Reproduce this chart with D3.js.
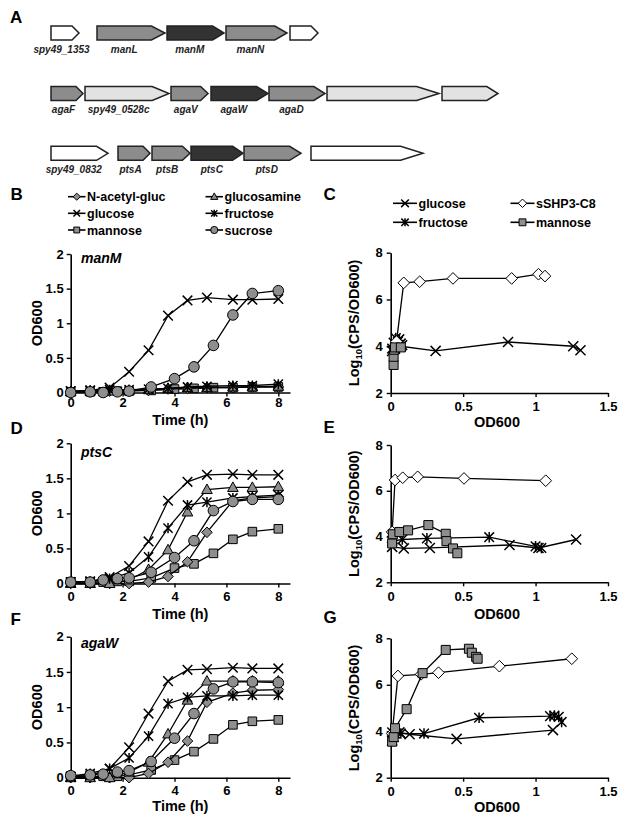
<!DOCTYPE html>
<html><head><meta charset="utf-8">
<script src="https://cdn.jsdelivr.net/npm/d3@7"></script>
<style>body{margin:0;background:#fff}svg{display:block;font-family:Arial,"Liberation Sans",sans-serif}</style>
</head><body><svg id="fig" width="629" height="826"></svg>
<script>
// ---------------- DATA ----------------
// Panel A gene maps: [name, start, end, class]
const geneRow1 = [["spy49_1353",0,28,"none"],["manL",46,114,"pts"],["manM",116,173,"target"],["manN",175,236,"pts"],["",239,267,"none"]];
const geneRow2 = [["agaF",0,32,"pts"],["spy49_0528c",34,118,"other"],["agaV",120,157,"pts"],["agaW",160,217,"target"],["agaD",218,274,"pts"],["",276,388,"other"],["",391,447,"other"]];
const geneRow3 = [["spy49_0832",0,57,"none"],["ptsA",67,99,"pts"],["ptsB",101,139,"pts"],["ptsC",140,192,"target"],["ptsD",193,250,"pts"],["",260,372,"none"]];

// Growth curves (time in h, OD600)
const timesA = [0,0.75,1.5,2.25,3,3.75,4.5,5.25,6.25,7,8];
const timesB = [0,0.75,1.25,1.8,2.25,3.1,4,4.75,5.5,6.25,7,8];
const growthSeries = ["N-acetyl-gluc","glucosamine","glucose","fructose","mannose","sucrose"];

const B_nag        = [0.01,0.01,0.02,0.03,0.03,0.05,0.06,0.07,0.07,0.08,0.08];
const B_glucosamine= [0.01,0.02,0.02,0.03,0.04,0.06,0.07,0.07,0.08,0.08,0.09];
const B_glucose    = [0.02,0.03,0.07,0.30,0.61,1.11,1.33,1.37,1.34,1.34,1.35];
const B_fructose   = [0.02,0.03,0.04,0.04,0.05,0.06,0.08,0.09,0.10,0.10,0.12];
const B_mannose    = [0.01,0.01,0.01,0.02,0.02,0.03,0.05,0.06,0.07,0.07,0.08,0.08];
const B_sucrose    = [0.00,0.01,0.00,0.01,0.02,0.08,0.20,0.37,0.68,1.12,1.43,1.47];

const D_nag        = [0.00,0.00,0.00,0.00,0.02,0.10,0.31,0.73,1.18,1.22,1.24];
const D_glucosamine= [0.00,0.00,0.00,0.05,0.20,0.48,1.02,1.34,1.37,1.37,1.38];
const D_glucose    = [0.02,0.03,0.09,0.25,0.60,1.18,1.45,1.55,1.56,1.55,1.55];
const D_fructose   = [0.02,0.03,0.07,0.15,0.38,0.79,1.12,1.16,1.22,1.24,1.26];
const D_mannose    = [0.02,0.02,0.02,0.03,0.03,0.08,0.22,0.28,0.43,0.63,0.74,0.78];
const D_sucrose    = [0.02,0.02,0.05,0.07,0.08,0.16,0.37,0.61,1.04,1.17,1.20,1.20];

const F_nag        = [0.00,0.00,0.00,0.00,0.06,0.22,0.52,1.07,1.20,1.24,1.25];
const F_glucosamine= [0.00,0.00,0.00,0.08,0.22,0.62,1.10,1.37,1.37,1.37,1.37];
const F_glucose    = [0.01,0.03,0.13,0.43,0.91,1.37,1.53,1.54,1.56,1.55,1.55];
const F_fructose   = [0.02,0.06,0.13,0.28,0.59,1.05,1.14,1.16,1.16,1.17,1.17];
const F_mannose    = [0.02,0.02,0.02,0.02,0.04,0.11,0.25,0.37,0.55,0.75,0.80,0.82];
const F_sucrose    = [0.03,0.04,0.05,0.08,0.10,0.23,0.56,0.91,1.26,1.36,1.36,1.35];

// Reporter panels: [OD600, log10(CPS/OD600)]
const reporterSeries = ["glucose","sSHP3-C8","fructose","mannose"];
const C_glucose  = [[0.01,3.8],[0.03,3.9],[0.07,4.0],[0.31,3.8],[0.81,4.18],[1.26,4.0],[1.31,3.83]];
const C_fructose = [[0.01,3.9],[0.02,4.15],[0.035,4.35],[0.05,4.2],[0.06,4.3],[0.07,4.12],[0.08,4.05]];
const C_shp      = [[0.04,4.2],[0.09,6.71],[0.2,6.76],[0.43,6.9],[0.835,6.9],[1.02,7.08],[1.065,7.0]];
const C_mannose  = [[0.02,3.2],[0.02,3.55],[0.025,3.85],[0.03,3.95],[0.07,3.95]];

const E_glucose  = [[0.01,3.55],[0.09,3.48],[0.27,3.5],[0.82,3.63],[1.02,3.5],[1.28,3.87]];
const E_fructose = [[0.01,3.8],[0.08,3.87],[0.25,3.92],[0.68,3.97],[1.0,3.57],[1.04,3.5]];
const E_shp      = [[0.01,4.2],[0.03,6.47],[0.083,6.57],[0.186,6.61],[0.506,6.54],[1.07,6.44]];
const E_mannose  = [[0.01,3.7],[0.015,4.1],[0.06,4.2],[0.12,4.27],[0.26,4.5],[0.38,4.12],[0.385,3.8],[0.43,3.48],[0.46,3.27]];

const G_glucose  = [[0.01,3.6],[0.02,3.75],[0.06,3.95],[0.13,3.87],[0.455,3.67],[1.12,4.05]];
const G_fructose = [[0.01,3.95],[0.03,3.9],[0.07,3.9],[0.23,3.9],[0.61,4.58],[1.1,4.65],[1.13,4.67],[1.16,4.62],[1.18,4.4]];
const G_shp      = [[0.01,3.9],[0.05,6.38],[0.21,6.45],[0.33,6.52],[0.75,6.8],[1.25,7.12]];
const G_mannose  = [[0.01,3.55],[0.02,3.75],[0.03,4.13],[0.11,4.95],[0.22,6.5],[0.38,7.5],[0.54,7.55],[0.56,7.38],[0.59,7.2],[0.6,7.12]];

// Axis ticks
const timeTicks = [0,2,4,6,8];
const timeAxisMax = 8.45;
const odTicks = [0,0.5,1,1.5,2];
const odXTicks = [0,0.5,1,1.5];
const logTicks = [2,4,6,8];

// ---------------- STYLE ----------------
const svg = d3.select("#fig");
const GRAY = "#8e8e8e";
const TICKFS = 13;
const geneFill = {none:"#ffffff", pts:"#8c8c8c", target:"#333333", other:"#e2e2e2"};
const markerStyle = {
  "N-acetyl-gluc":{shape:"diamond", fill:GRAY},
  "glucosamine":{shape:"triangle", fill:GRAY},
  "glucose":{shape:"cross", fill:"none"},
  "fructose":{shape:"star", fill:"none"},
  "mannose":{shape:"square", fill:GRAY},
  "sucrose":{shape:"circle", fill:GRAY},
  "sSHP3-C8":{shape:"diamond", fill:"#ffffff"}
};
function markerPath(shape, s){
  switch(shape){
    case "diamond": return `M0,${-s}L${s},0L0,${s}L${-s},0Z`;
    case "triangle": return `M0,${-s*1.05}L${s},${s*0.75}L${-s},${s*0.75}Z`;
    case "square": return `M${-s},${-s}H${s}V${s}H${-s}Z`;
    case "circle": return `M${s},0A${s},${s} 0 1,1 ${-s},0A${s},${s} 0 1,1 ${s},0Z`;
    case "cross": return `M${-s},${-s}L${s},${s}M${-s},${s}L${s},${-s}`;
    case "star": return `M${-s},${-s}L${s},${s}M${-s},${s}L${s},${-s}M0,${-s*1.1}V${s*1.1}`;
  }
}
const markerSize = {diamond:5.3, triangle:5.3, square:4.3, circle:5.3, cross:4.8, star:4.6};
function drawMarker(sel, name, s){
  const st = markerStyle[name];
  const size = s * markerSize[st.shape];
  const line = st.shape==="cross"||st.shape==="star";
  sel.append("path").attr("d", markerPath(st.shape, size))
    .attr("fill", st.fill).attr("stroke","#000")
    .attr("stroke-width", line?1.5:1);
}
function styleAxis(g, fs){
  g.select(".domain").attr("stroke","#000").attr("stroke-width",1.6);
  g.selectAll(".tick line").attr("stroke","#000").attr("stroke-width",1.4);
  g.selectAll(".tick text").attr("fill","#000").attr("font-size",fs)
    .attr("font-weight","bold").attr("font-family",'Arial,"Liberation Sans",sans-serif');
}
function letter(t,x,y){
  svg.append("text").attr("x",x).attr("y",y).text(t)
    .attr("font-size",17).attr("font-weight","bold");
}

// ---------------- PANEL A ----------------
letter("A",10,23);
const geneX = d3.scaleLinear().domain([0,450]).range([51,501]);
const rowY = [33, 93.5, 153.3];
[geneRow1, geneRow2, geneRow3].forEach((row,i)=>{
  const cy = rowY[i], h = 7;
  const g = svg.append("g");
  row.forEach(([name,s,e,cls])=>{
    const x0 = geneX(s), x1 = geneX(e);
    const head = Math.max(7, 0.2*(x1-x0));
    g.append("path")
      .attr("d",`M${x0},${cy-h}L${x1-head},${cy-h}L${x1},${cy}L${x1-head},${cy+h}L${x0},${cy+h}Z`)
      .attr("fill",geneFill[cls]).attr("stroke","#222").attr("stroke-width",1.5)
      .attr("stroke-linejoin","miter");
    if(name){
      g.append("text").attr("x",(x0+x1-head)/2).attr("y",cy+19.5)
        .attr("text-anchor","middle").attr("font-size",10).attr("font-style","italic")
        .attr("font-weight","bold").attr("fill","#222").text(name);
    }
  });
});

// ---------------- LEGENDS ----------------
function legend(items, x0s, ys, lineLen, ms){
  items.forEach((name,i)=>{
    const col = i%2, row = Math.floor(i/2);
    const x = x0s[col], y = ys[row];
    const g = svg.append("g");
    g.append("line").attr("x1",x).attr("x2",x+lineLen).attr("y1",y).attr("y2",y)
      .attr("stroke","#000").attr("stroke-width",1.6);
    const m = g.append("g").attr("transform",`translate(${x+lineLen/2},${y})`);
    drawMarker(m, name, ms);
    g.append("text").attr("x",x+lineLen+1.5).attr("y",y).attr("dy","0.36em")
      .attr("font-size",12.5).attr("font-weight","bold").text(name);
  });
}
legend(growthSeries, [68,205.5], [196.7,213.3,230], 17.5, 0.68);
legend(reporterSeries, [393,510.5], [203.3,222.3], 24, 0.8);

// ---------------- GROWTH PANELS ----------------
const growthPanels = [
  {letter:"B", ly:200, top:254, bottom:392.5, gene:"manM", gy:263, pad:1, title:425,
   data:{"N-acetyl-gluc":B_nag,"glucosamine":B_glucosamine,"glucose":B_glucose,"fructose":B_fructose,"mannose":B_mannose,"sucrose":B_sucrose}},
  {letter:"D", ly:434, top:443.3, bottom:583.5, gene:"ptsC", gy:456.5, pad:4.5, title:618.5,
   data:{"N-acetyl-gluc":D_nag,"glucosamine":D_glucosamine,"glucose":D_glucose,"fructose":D_fructose,"mannose":D_mannose,"sucrose":D_sucrose}},
  {letter:"F", ly:625, top:636.7, bottom:777.7, gene:"agaW", gy:648, pad:4.5, title:811,
   data:{"N-acetyl-gluc":F_nag,"glucosamine":F_glucosamine,"glucose":F_glucose,"fructose":F_fructose,"mannose":F_mannose,"sucrose":F_sucrose}}
];
const drawOrder = ["mannose","N-acetyl-gluc","glucosamine","fructose","glucose","sucrose"];
growthPanels.forEach(p=>{
  letter(p.letter, 10.5, p.ly);
  const x = d3.scaleLinear().domain([0,timeAxisMax]).range([70.7,290]);
  const y = d3.scaleLinear().domain([0,2]).range([p.bottom,p.top]);
  const g = svg.append("g");
  const ya = g.append("g").attr("transform",`translate(${x(0)},0)`)
    .call(d3.axisLeft(y).tickValues(odTicks).tickSize(4).tickSizeOuter(0).tickPadding(3).tickFormat(d3.format("")));
  styleAxis(ya, TICKFS);
  const xa = g.append("g").attr("transform",`translate(0,${y(0)})`)
    .call(d3.axisBottom(x).tickValues(timeTicks).tickSize(4).tickSizeOuter(0).tickPadding(p.pad).tickFormat(d3.format("")));
  styleAxis(xa, TICKFS);
  g.append("text").attr("x",(70.7+290)/2).attr("y",p.title).attr("text-anchor","middle")
    .attr("font-size",14.5).attr("font-weight","bold").text("Time (h)");
  g.append("text").attr("transform",`translate(41.5,${(p.top+p.bottom)/2}) rotate(-90)`)
    .attr("text-anchor","middle").attr("font-size",14.5).attr("font-weight","bold").text("OD600");
  g.append("text").attr("x",81).attr("y",p.gy).attr("font-size",14).attr("font-style","italic")
    .attr("font-weight","bold").text(p.gene);
  drawOrder.forEach(name=>{
    const vals = p.data[name];
    const ts = vals.length===timesA.length ? timesA : timesB;
    const pts = vals.map((v,i)=>[ts[i],v]);
    g.append("path").attr("d", d3.line().x(d=>x(d[0])).y(d=>y(d[1]))(pts))
      .attr("fill","none").attr("stroke","#000").attr("stroke-width",1.3);
    pts.forEach(d=>{
      const m = g.append("g").attr("transform",`translate(${x(d[0])},${y(d[1])})`);
      drawMarker(m, name, 1);
    });
  });
});

// ---------------- REPORTER PANELS ----------------
const reporterPanels = [
  {letter:"C", ly:200, top:252.7, bottom:393, pad:4.5, title:427,
   data:{"glucose":C_glucose,"fructose":C_fructose,"sSHP3-C8":C_shp,"mannose":C_mannose}},
  {letter:"E", ly:433, top:445, bottom:582.3, pad:5, title:619,
   data:{"glucose":E_glucose,"fructose":E_fructose,"sSHP3-C8":E_shp,"mannose":E_mannose}},
  {letter:"G", ly:623, top:638.3, bottom:777.7, pad:5, title:812,
   data:{"glucose":G_glucose,"fructose":G_fructose,"sSHP3-C8":G_shp,"mannose":G_mannose}}
];
const rOrder = ["glucose","fructose","sSHP3-C8","mannose"];
reporterPanels.forEach(p=>{
  letter(p.letter, 323.5, p.ly);
  const x = d3.scaleLinear().domain([0,1.5]).range([390.7,608]);
  const y = d3.scaleLinear().domain([2,8]).range([p.bottom,p.top]);
  const g = svg.append("g");
  const ya = g.append("g").attr("transform",`translate(${x(0)},0)`)
    .call(d3.axisLeft(y).tickValues(logTicks).tickSize(4).tickSizeOuter(0).tickPadding(4).tickFormat(d3.format("")));
  styleAxis(ya, TICKFS);
  const xa = g.append("g").attr("transform",`translate(0,${y(2)})`)
    .call(d3.axisBottom(x).tickValues(odXTicks).tickSize(4).tickSizeOuter(0).tickPadding(p.pad).tickFormat(d3.format("")));
  styleAxis(xa, TICKFS);
  g.append("text").attr("x",497).attr("y",p.title).attr("text-anchor","middle")
    .attr("font-size",14.5).attr("font-weight","bold").text("OD600");
  const yl = g.append("text").attr("transform",`translate(359,${(p.top+p.bottom)/2}) rotate(-90)`)
    .attr("text-anchor","middle").attr("font-size",14.5).attr("font-weight","bold");
  yl.append("tspan").text("Log");
  yl.append("tspan").attr("font-size",9.5).attr("dy",3).text("10");
  yl.append("tspan").attr("dy",-3).text("(CPS/OD600)");
  rOrder.forEach(name=>{
    const pts = p.data[name];
    g.append("path").attr("d", d3.line().x(d=>x(d[0])).y(d=>y(d[1]))(pts))
      .attr("fill","none").attr("stroke","#000").attr("stroke-width",1.3);
    pts.forEach(d=>{
      const m = g.append("g").attr("transform",`translate(${x(d[0])},${y(d[1])})`);
      drawMarker(m, name, name==="sSHP3-C8"?1.1:1.05);
    });
  });
});
</script></body></html>
